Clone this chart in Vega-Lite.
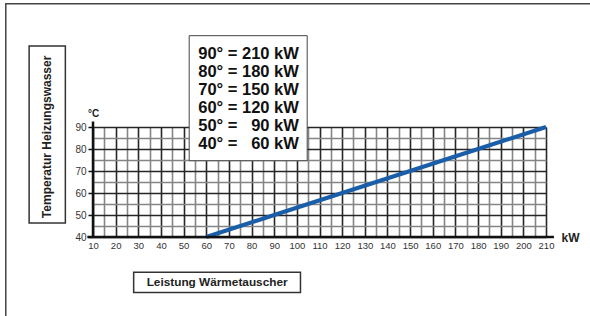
{
  "$schema": "https://vega.github.io/schema/vega-lite/v6.json",
  "width": 453,
  "height": 110,
  "autosize": {"type": "none"},
  "padding": {"left": 93, "top": 127, "right": 44, "bottom": 79},
  "background": "white",
  "config": {"font": "Liberation Sans", "view": {"stroke": null}},
  "resolve": {"axis": {"x": "independent", "y": "independent"}},
  "data": {
    "values": [
      {"kw": 60, "temp": 40, "label": "40° = \u200760 kW"},
      {"kw": 90, "temp": 50, "label": "50° = \u200790 kW"},
      {"kw": 120, "temp": 60, "label": "60° = 120 kW"},
      {"kw": 150, "temp": 70, "label": "70° = 150 kW"},
      {"kw": 180, "temp": 80, "label": "80° = 180 kW"},
      {"kw": 210, "temp": 90, "label": "90° = 210 kW"}
    ]
  },
  "layer": [
    {
      "mark": {"type": "line", "color": "#1a5eaa", "strokeWidth": 4, "strokeCap": "butt"},
      "encoding": {
        "x": {
          "field": "kw", "type": "quantitative",
          "scale": {"domain": [10, 210], "nice": false, "zero": false},
          "axis": {
            "values": [10,15,20,25,30,35,40,45,50,55,60,65,70,75,80,85,90,95,100,105,110,115,120,125,130,135,140,145,150,155,160,165,170,175,180,185,190,195,200,205,210],
            "grid": true,
            "gridColor": {"condition": {"test": "datum.value % 10 === 0", "value": "#262626"}, "value": "#858585"},
            "gridWidth": 1.6,
            "gridOpacity": 1,
            "domain": false,
            "ticks": false,
            "labelExpr": "datum.value % 10 === 0 ? datum.label : ''",
            "labelOverlap": false,
            "labelFlush": false,
            "labelFontSize": 9.5,
            "labelColor": "#333",
            "labelPadding": 3,
            "title": "kW",
            "titleX": 477,
            "titleY": 0,
            "titleAlign": "center",
            "titleBaseline": "middle",
            "titleFontSize": 12,
            "titleFontWeight": "bold",
            "titleColor": "#222"
          }
        },
        "y": {
          "field": "temp", "type": "quantitative",
          "scale": {"domain": [40, 90], "nice": false, "zero": false},
          "axis": {
            "values": [40,45,50,55,60,65,70,75,80,85,90],
            "grid": true,
            "gridColor": {"condition": {"test": "datum.value % 10 === 0", "value": "#262626"}, "value": "#858585"},
            "gridWidth": 1.6,
            "gridOpacity": 1,
            "domain": false,
            "ticks": true,
            "tickSize": 5,
            "tickWidth": 1.5,
            "tickColor": "#111",
            "tickOpacity": {"condition": {"test": "datum.value % 10 === 0", "value": 1}, "value": 0},
            "labelExpr": "datum.value % 10 === 0 ? datum.label : ''",
            "labelOverlap": false,
            "labelFlush": false,
            "labelFontSize": 10,
            "labelColor": "#333",
            "labelPadding": 2,
            "title": "°C",
            "titleAngle": 0,
            "titleX": 0,
            "titleY": -14,
            "titleAlign": "center",
            "titleBaseline": "middle",
            "titleFontSize": 10,
            "titleFontWeight": "bold",
            "titleColor": "#222"
          }
        }
      }
    },
    {
      "mark": {"type": "point", "opacity": 0},
      "encoding": {
        "x": {"field": "kw", "type": "quantitative", "scale": {"domain": [10, 210], "nice": false, "zero": false}, "axis": null},
        "y": {"field": "temp", "type": "quantitative", "scale": {"domain": [40, 90], "nice": false, "zero": false}, "axis": null},
        "color": {
          "field": "label", "type": "nominal",
          "sort": {"field": "temp", "op": "max", "order": "descending"},
          "scale": {"range": ["#1a5eaa"]},
          "legend": {
            "orient": "none",
            "legendX": 95.7,
            "legendY": -91.8,
            "title": " ",
            "titleFontSize": 4,
            "titlePadding": 0,
            "symbolType": "circle",
            "symbolSize": 0,
            "symbolOpacity": 0,
            "symbolStrokeWidth": 0,
            "labelFont": "Liberation Sans",
            "labelFontSize": 16.5,
            "labelFontWeight": "bold",
            "labelColor": "#111",
            "labelOffset": -14,
            "labelLimit": 300,
            "padding": 7,
            "rowPadding": 1,
            "strokeColor": "#444",
            "fillColor": "white"
          }
        }
      }
    },
    {
      "data": {"values": [{}]},
      "mark": {"type": "rule", "color": "#111", "strokeWidth": 2.5},
      "encoding": {
        "x": {"datum": 10, "type": "quantitative", "scale": {"domain": [10, 210], "nice": false, "zero": false}, "axis": null},
        "y": {"datum": 39.6, "type": "quantitative", "scale": {"domain": [40, 90], "nice": false, "zero": false}, "axis": null},
        "y2": {"datum": 92.5}
      }
    },
    {
      "data": {"values": [{}]},
      "mark": {"type": "rule", "color": "#111", "strokeWidth": 2.5},
      "encoding": {
        "x": {"datum": 7.5, "type": "quantitative", "scale": {"domain": [10, 210], "nice": false, "zero": false}, "axis": null},
        "x2": {"datum": 213.5},
        "y": {"datum": 40, "type": "quantitative", "scale": {"domain": [40, 90], "nice": false, "zero": false}, "axis": null}
      }
    },
    {
      "data": {"values": [{}]},
      "mark": {"type": "rect", "fill": "transparent", "stroke": "#444", "strokeWidth": 1.5},
      "encoding": {
        "x": {"datum": -28.5, "type": "quantitative", "scale": {"domain": [10, 210], "nice": false, "zero": false}, "axis": null},
        "x2": {"datum": 240},
        "y": {"datum": 146, "type": "quantitative", "scale": {"domain": [40, 90], "nice": false, "zero": false}, "axis": null},
        "y2": {"datum": -10}
      }
    },
    {
      "data": {"values": [{}]},
      "mark": {"type": "rect", "fill": "transparent", "stroke": "#333", "strokeWidth": 1.5},
      "encoding": {
        "x": {"datum": -18.2, "type": "quantitative", "scale": {"domain": [10, 210], "nice": false, "zero": false}, "axis": null},
        "x2": {"datum": -2.2},
        "y": {"datum": 126.8, "type": "quantitative", "scale": {"domain": [40, 90], "nice": false, "zero": false}, "axis": null},
        "y2": {"datum": 46.4}
      }
    },
    {
      "data": {"values": [{}]},
      "mark": {"type": "text", "angle": 270, "font": "Liberation Sans", "fontSize": 12, "fontWeight": "bold", "color": "#222", "align": "center", "baseline": "middle"},
      "encoding": {
        "x": {"datum": -10.2, "type": "quantitative", "scale": {"domain": [10, 210], "nice": false, "zero": false}, "axis": null},
        "y": {"datum": 85.5, "type": "quantitative", "scale": {"domain": [40, 90], "nice": false, "zero": false}, "axis": null},
        "text": {"value": "Temperatur Heizungswasser"}
      }
    },
    {
      "data": {"values": [{}]},
      "mark": {"type": "rect", "fill": "transparent", "stroke": "#333", "strokeWidth": 1.5},
      "encoding": {
        "x": {"datum": 27.95, "type": "quantitative", "scale": {"domain": [10, 210], "nice": false, "zero": false}, "axis": null},
        "x2": {"datum": 101.6},
        "y": {"datum": 24.0, "type": "quantitative", "scale": {"domain": [40, 90], "nice": false, "zero": false}, "axis": null},
        "y2": {"datum": 14.75}
      }
    },
    {
      "data": {"values": [{}]},
      "mark": {"type": "text", "font": "Liberation Sans", "fontSize": 11.8, "fontWeight": "bold", "color": "#222", "align": "center", "baseline": "middle"},
      "encoding": {
        "x": {"datum": 64.8, "type": "quantitative", "scale": {"domain": [10, 210], "nice": false, "zero": false}, "axis": null},
        "y": {"datum": 19.5, "type": "quantitative", "scale": {"domain": [40, 90], "nice": false, "zero": false}, "axis": null},
        "text": {"value": "Leistung Wärmetauscher"}
      }
    }
  ]
}
